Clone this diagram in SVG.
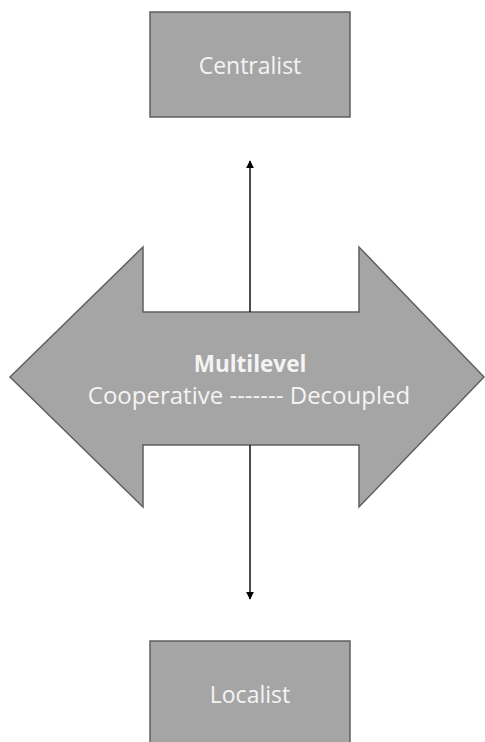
<svg xmlns="http://www.w3.org/2000/svg" width="485" height="742" viewBox="0 0 485 742">
<style>
.shape{fill:#a5a5a5;stroke:#5f5f5f;stroke-width:1.5}
.lbl{fill:#f4f4f4;font-family:"Open Sans","Liberation Sans",sans-serif;text-anchor:middle}
.conn{stroke:#111;stroke-width:1.5;fill:none}
</style>
<defs>
<marker id="ah" viewBox="0 0 10 10" refX="9" refY="5" markerWidth="8" markerHeight="8" orient="auto-start-reverse" markerUnits="userSpaceOnUse">
<path d="M0,0 L10,5 L0,10 z" fill="#000"/>
</marker>
</defs>
<g id="centralist">
<rect class="shape" x="150" y="12" width="200" height="105"/>
<text class="lbl" x="250" y="74" font-size="23">Centralist</text>
</g>
<g id="localist">
<rect class="shape" x="150" y="641" width="200" height="110"/>
<text class="lbl" x="250" y="703" font-size="23">Localist</text>
</g>
<g id="multilevel">
<polygon class="shape" points="10,377 143,247 143,312 359,312 359,247 484,377 359,507 359,445 143,445 143,507"/>
<text class="lbl" x="250" y="372" font-size="22.5" font-weight="bold">Multilevel</text>
<text class="lbl" x="249" y="404" font-size="24">Cooperative ------- Decoupled</text>
</g>
<g id="connectors">
<line class="conn" x1="250" y1="312" x2="250" y2="161" marker-end="url(#ah)"/>
<line class="conn" x1="250" y1="445" x2="250" y2="599" marker-end="url(#ah)"/>
</g>
</svg>
